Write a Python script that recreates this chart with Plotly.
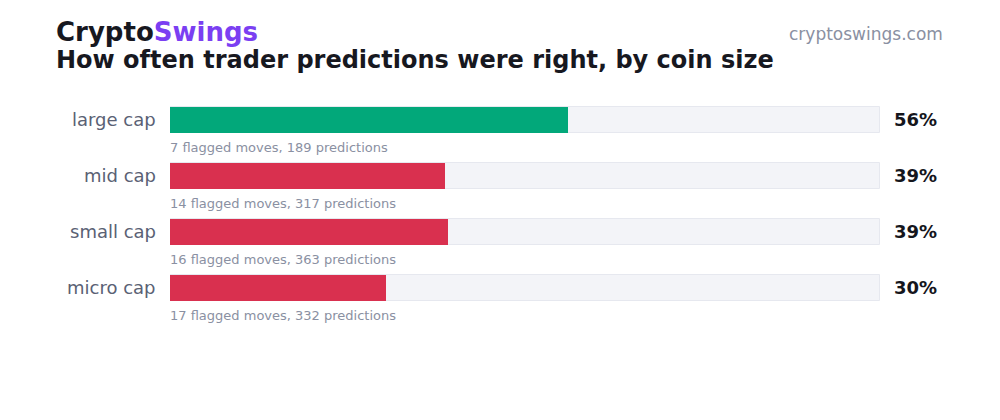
import plotly.graph_objects as go

categories = ["large cap", "mid cap", "small cap", "micro cap"]
accuracy_pct = [56.1, 38.8, 39.1, 30.4]
flagged_moves = [7, 14, 16, 17]
predictions = [189, 317, 363, 332]
pct_labels = ["56%", "39%", "39%", "30%"]
bar_colors = ["#02a87a", "#d9304f", "#d9304f", "#d9304f"]

FONT = "DejaVu Sans"
ypos = list(range(len(categories)))

PL, PR, PT, PB = 170, 880, 92, 316


def px_x(px):
    return (px - PL) / (PR - PL)


def px_y(py):
    return (PB - py) / (PB - PT)


fig = go.Figure()
# track
fig.add_trace(go.Bar(
    x=[100] * len(categories), y=ypos, orientation="h", width=0.46,
    marker=dict(color="#f3f4f8", line=dict(color="#e6e8ef", width=1)),
    hoverinfo="skip", showlegend=False,
))
fig.add_trace(go.Bar(
    x=accuracy_pct, y=ypos, orientation="h", width=0.46,
    marker=dict(color=bar_colors, line=dict(width=0)),
    showlegend=False,
))

ann = []
for i, cat in enumerate(categories):
    ann.append(dict(x=0, y=i, xref="x", yref="y", text=cat, showarrow=False, yshift=1,
                    xanchor="right", xshift=-12, font=dict(family=FONT, size=18, color="#5a6174")))
    ann.append(dict(x=0, y=i, xref="x", yref="y",
                    text=f"{flagged_moves[i]} flagged moves, {predictions[i]} predictions",
                    showarrow=False, xanchor="left", yanchor="middle", yshift=-27, xshift=-2,
                    font=dict(family=FONT, size=13, color="#8a90a2")))
    ann.append(dict(x=1, y=i, xref="paper", yref="y", text=f"<b>{pct_labels[i]}</b>", showarrow=False,
                    xanchor="left", xshift=12, yshift=1, font=dict(family=FONT, size=18, color="#15161c")))

ann.append(dict(x=px_x(54), y=px_y(32), xref="paper", yref="paper", xanchor="left", yanchor="middle",
                text="<b><span style='color:#17181f'>Crypto</span><span style='color:#7b3ff2'>Swings</span></b>",
                showarrow=False, font=dict(family=FONT, size=26)))
ann.append(dict(x=px_x(54), y=px_y(60), xref="paper", yref="paper", xanchor="left", yanchor="middle",
                text="<b>How often trader predictions were right, by coin size</b>",
                showarrow=False, font=dict(family=FONT, size=24, color="#17181f")))
ann.append(dict(x=px_x(945), y=px_y(34), xref="paper", yref="paper", xanchor="right", yanchor="middle",
                text="cryptoswings.com", showarrow=False, font=dict(family=FONT, size=17, color="#8a90a2")))

fig.update_layout(
    width=1000, height=420,
    margin=dict(l=PL, r=1000 - PR, t=PT, b=420 - PB),
    paper_bgcolor="white", plot_bgcolor="white",
    barmode="overlay", bargap=0,
    xaxis=dict(range=[0, 100], visible=False, fixedrange=True),
    yaxis=dict(range=[3.5, -0.5], visible=False, fixedrange=True),
    annotations=ann,
    font=dict(family=FONT),
)

fig.write_html("out.html")
